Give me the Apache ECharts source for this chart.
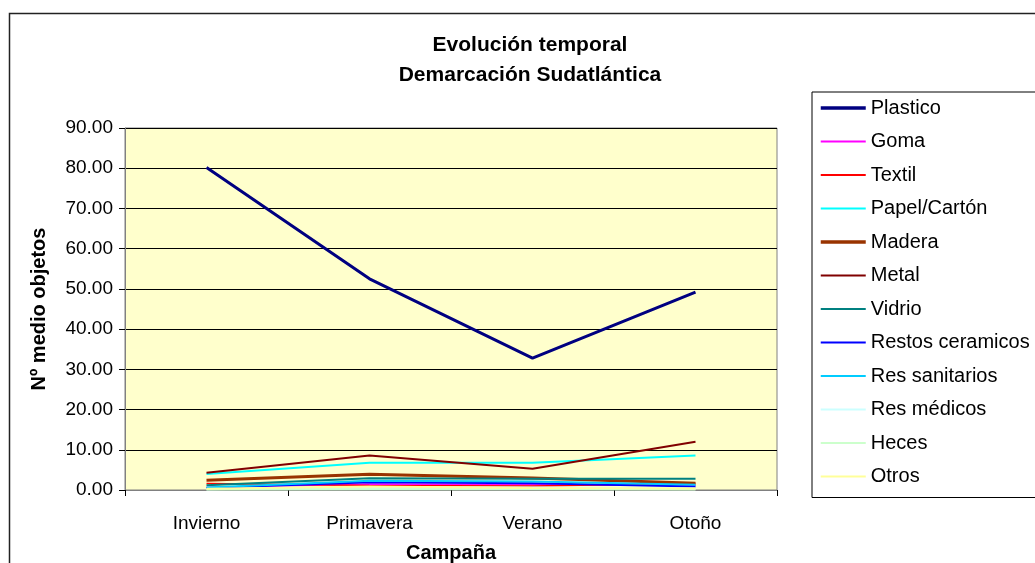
<!DOCTYPE html>
<html>
<head>
<meta charset="utf-8">
<script src="https://cdn.jsdelivr.net/npm/echarts@6/dist/echarts.min.js"></script>
<style>
  html, body { margin: 0; padding: 0; background: #fff; }
  #chart { width: 1035px; height: 563px; }
</style>
</head>
<body>
<div id="chart"></div>
<script>
// datos
var campanas = ['Invierno', 'Primavera', 'Verano', 'Otoño'];
var plastico = [80.2, 52.5, 32.8, 49.2];
var goma = [0.6, 1.5, 1.3, 1.1];
var textil = [1.6, 1.1, 1.0, 1.6];
var papel = [4.0, 6.8, 6.8, 8.6];
var madera = [2.4, 3.9, 3.0, 1.7];
var metal = [4.3, 8.6, 5.3, 12.0];
var vidrio = [1.2, 2.9, 2.8, 2.8];
var ceramicos = [0.5, 1.9, 1.7, 0.9];
var sanitarios = [0.6, 2.3, 2.1, 1.3];
var medicos = [0.2, 0.7, 0.6, 0.3];
var heces = [0.1, 0.2, 0.2, 0.1];
var otros = [0.3, 0.9, 0.5, 0.4];

var font = 'Liberation Sans, Arial, sans-serif';

function serie(name, data, color, width) {
    return {
        name: name,
        type: 'line',
        data: data,
        symbol: 'none',
        smooth: false,
        lineStyle: { color: color, width: width },
        itemStyle: { color: color },
        emphasis: { disabled: true }
    };
}

var nombres = ['Plastico', 'Goma', 'Textil', 'Papel/Cartón', 'Madera', 'Metal', 'Vidrio',
               'Restos ceramicos', 'Res sanitarios', 'Res médicos', 'Heces', 'Otros'];

var chart = echarts.init(document.getElementById('chart'));
chart.setOption({
    animation: false,
    backgroundColor: '#fff',
    textStyle: { fontFamily: font },
    title: {
        text: 'Evolución temporal\nDemarcación Sudatlántica',
        left: 530,
        textAlign: 'center',
        top: 30,
        padding: 0,
        textStyle: { fontSize: 21, fontWeight: 'bold', color: '#000', lineHeight: 30, fontFamily: font }
    },
    graphic: [{
        type: 'rect',
        shape: { x: 9.5, y: 13.5, width: 1100, height: 1000 },
        style: { fill: 'none', stroke: '#222', lineWidth: 1.5 },
        silent: true
    }],
    legend: {
        orient: 'vertical',
        left: 812,
        top: 92,
        itemWidth: 45,
        itemHeight: 14,
        itemGap: 13.5,
        padding: [6, 30, 11, 7],
        borderColor: '#000',
        borderWidth: 1,
        backgroundColor: '#fff',
        itemStyle: { opacity: 0 },
        textStyle: { fontSize: 20, lineHeight: 20, color: '#000', fontFamily: font },
        data: nombres.map(function (n) {
            if (n === 'Plastico' || n === 'Madera') {
                return { name: n, lineStyle: { width: 3.5 } };
            }
            return { name: n, lineStyle: { width: 2 } };
        })
    },
    grid: {
        left: 125, right: 258, top: 128, bottom: 73,
        outerBoundsMode: 'none',
        containLabel: false,
        show: true,
        backgroundColor: '#FFFFCC',
        borderColor: '#808080',
        borderWidth: 1
    },
    xAxis: {
        type: 'category',
        data: campanas,
        boundaryGap: true,
        name: 'Campaña',
        nameLocation: 'middle',
        nameGap: 53,
        nameTextStyle: { fontSize: 20, fontWeight: 'bold', color: '#000', fontFamily: font },
        axisLine: { lineStyle: { color: '#808080', width: 1 } },
        axisTick: { show: true, length: 6, lineStyle: { color: '#000' } },
        axisLabel: { fontSize: 19, color: '#000', margin: 24, fontFamily: font },
        splitLine: { show: false }
    },
    yAxis: {
        type: 'value',
        min: 0,
        max: 90,
        interval: 10,
        name: 'Nº medio objetos',
        nameLocation: 'middle',
        nameGap: 76,
        nameTextStyle: { fontSize: 20, fontWeight: 'bold', color: '#000', fontFamily: font },
        axisLine: { show: true, lineStyle: { color: '#808080', width: 1 } },
        axisTick: { show: true, length: 6, lineStyle: { color: '#000' } },
        axisLabel: {
            fontSize: 19, color: '#000', margin: 12, fontFamily: font,
            formatter: function (v) { return v.toFixed(2); }
        },
        splitLine: { show: true, lineStyle: { color: '#000', width: 1 } }
    },
    series: [
        serie('Plastico', plastico, '#000080', 3),
        serie('Goma', goma, '#FF00FF', 1.5),
        serie('Textil', textil, '#FF0000', 1.5),
        serie('Papel/Cartón', papel, '#00FFFF', 2),
        serie('Madera', madera, '#993300', 3),
        serie('Metal', metal, '#800000', 2),
        serie('Vidrio', vidrio, '#008080', 2),
        serie('Restos ceramicos', ceramicos, '#0000FF', 2),
        serie('Res sanitarios', sanitarios, '#00CCFF', 2),
        serie('Res médicos', medicos, '#CCFFFF', 2),
        serie('Heces', heces, '#CCFFCC', 2),
        serie('Otros', otros, '#FFFF99', 2)
    ]
});
</script>
</body>
</html>
